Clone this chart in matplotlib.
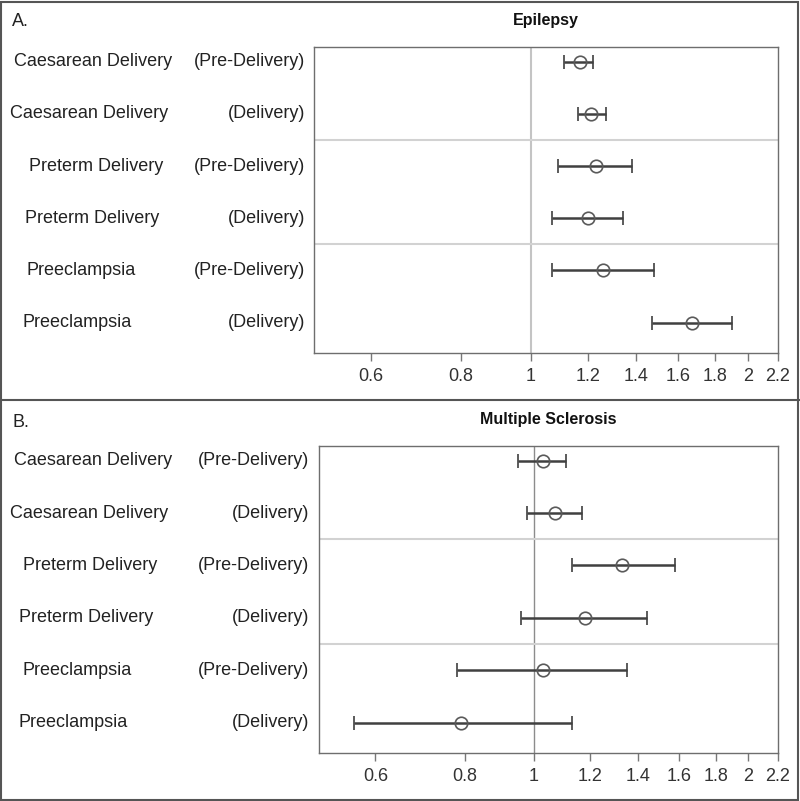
import numpy as np
import matplotlib
matplotlib.use("Agg")
import matplotlib.pyplot as plt
import matplotlib.transforms as mtransforms
from matplotlib.ticker import FixedLocator, FixedFormatter, NullLocator
from matplotlib.lines import Line2D
from matplotlib.patches import Rectangle

plt.rcParams['font.family'] = ['Liberation Sans', 'DejaVu Sans']

outcomes = ["Caesarean Delivery", "Caesarean Delivery", "Preterm Delivery",
            "Preterm Delivery", "Preeclampsia", "Preeclampsia"]
periods = ["(Pre-Delivery)", "(Delivery)", "(Pre-Delivery)",
           "(Delivery)", "(Pre-Delivery)", "(Delivery)"]

# Epilepsy: odds ratio, lower CI, upper CI
epi_or = [1.17, 1.21, 1.23, 1.20, 1.26, 1.67]
epi_lo = [1.11, 1.16, 1.09, 1.07, 1.07, 1.47]
epi_hi = [1.22, 1.27, 1.38, 1.34, 1.48, 1.90]

# Multiple sclerosis
ms_or = [1.03, 1.07, 1.33, 1.18, 1.03, 0.79]
ms_lo = [0.95, 0.98, 1.13, 0.96, 0.78, 0.56]
ms_hi = [1.11, 1.17, 1.58, 1.44, 1.35, 1.13]

ticks = [0.6, 0.8, 1, 1.2, 1.4, 1.6, 1.8, 2, 2.2]
tick_labels = ["0.6", "0.8", "1", "1.2", "1.4", "1.6", "1.8", "2", "2.2"]

W, H = 800, 801
fig = plt.figure(figsize=(W / 100, H / 100), dpi=100)

panels = [
    dict(title="Epilepsy", tag="A.", orv=epi_or, lo=epi_lo, hi=epi_hi,
         box=(314, 47, 778, 353), vcol="#c4c4c4", vlw=1.5,
         lab_x=[14, 10, 29, 25, 27, 23], per_x=305, tag_y=21, title_y=21),
    dict(title="Multiple Sclerosis", tag="B.", orv=ms_or, lo=ms_lo, hi=ms_hi,
         box=(319, 446, 778, 753), vcol="#8c8c8c", vlw=1.0,
         lab_x=[14, 10, 23, 19, 22, 18], per_x=309, tag_y=423, title_y=420),
]

txt_col = "#222222"
for p in panels:
    x0, y0, x1, y1 = p["box"]
    ax = fig.add_axes([x0 / W, 1 - y1 / H, (x1 - x0) / W, (y1 - y0) / H])
    y = np.arange(1, 7)
    orv = np.array(p["orv"])
    xerr = [orv - np.array(p["lo"]), np.array(p["hi"]) - orv]

    ax.axvline(1, color=p["vcol"], lw=p["vlw"], zorder=1)
    for s in (2.5, 4.5):
        ax.axhline(s, color="#d2d2d2", lw=1.5, zorder=1)

    ax.errorbar(orv, y, xerr=xerr, fmt="o", mfc="none", mec="#5a5a5a",
                mew=1.2, ms=9, ecolor="#404040", elinewidth=1.8,
                capsize=5, capthick=1.6, zorder=3)

    ax.set_xscale("log")
    ax.set_xlim(0.5, 2.2)
    ax.set_ylim(6.58, 0.72)
    ax.xaxis.set_major_locator(FixedLocator(ticks))
    ax.xaxis.set_major_formatter(FixedFormatter(tick_labels))
    ax.xaxis.set_minor_locator(NullLocator())
    ax.set_yticks([])
    ax.tick_params(axis="x", direction="out", length=6, width=1,
                   color="#777777", labelsize=13, labelcolor="#333333", pad=5)
    for sp in ax.spines.values():
        sp.set_color("#6e6e6e")
        sp.set_linewidth(1)

    trans = mtransforms.blended_transform_factory(fig.transFigure, ax.transData)
    for i in range(6):
        ax.text(p["lab_x"][i] / W, y[i], outcomes[i], transform=trans,
                ha="left", va="center", fontsize=13, color=txt_col)
        ax.text(p["per_x"] / W, y[i], periods[i], transform=trans,
                ha="right", va="center", fontsize=13, color=txt_col)

    fig.text((x0 + x1) / 2 / W, 1 - p["title_y"] / H, p["title"],
             ha="center", va="center", fontsize=11.5, fontweight="bold",
             color="#111111")
    fig.text(12 / W, 1 - p["tag_y"] / H, p["tag"], ha="left", va="center",
             fontsize=13, color=txt_col)

# panel frames
fig.add_artist(Rectangle((0.001, 0.001), 0.997, 0.997, transform=fig.transFigure,
                         fill=False, ec="#555555", lw=1.5))
fig.add_artist(Line2D([0, 1], [1 - 400 / H, 1 - 400 / H], transform=fig.transFigure,
                      color="#555555", lw=1.5))

fig.savefig("out.png", dpi=100)
